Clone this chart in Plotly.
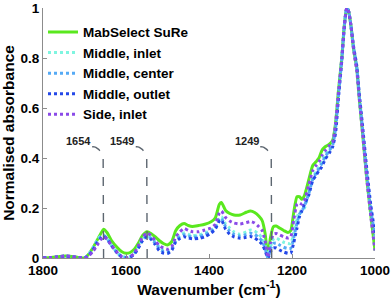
import numpy as np
import plotly.graph_objects as go

wavenumber = [1800, 1780, 1760, 1745, 1730, 1715, 1700, 1690, 1680, 1670, 1660, 1654, 1645, 1635, 1620,
              1610, 1600, 1590, 1580, 1570, 1560, 1549, 1540, 1530, 1520, 1510, 1500, 1490, 1480, 1470,
              1460, 1450, 1440, 1425, 1410, 1395, 1385, 1375, 1370, 1360, 1350, 1340, 1325, 1310, 1300,
              1290, 1280, 1272, 1265, 1258, 1252, 1245, 1238, 1230, 1220, 1210, 1203, 1196, 1188, 1182,
              1176, 1170, 1160, 1150, 1142, 1135, 1128, 1120, 1110, 1102, 1095, 1088, 1080, 1074, 1068,
              1064, 1058, 1052, 1048, 1044, 1038, 1030, 1020, 1010, 1000]

mabselect = [0.0, 0.002, 0.006, 0.008, 0.006, 0.002, 0.0, 0.015, 0.04, 0.07, 0.1, 0.115, 0.1, 0.07, 0.04,
             0.025, 0.019, 0.022, 0.035, 0.06, 0.09, 0.105, 0.098, 0.085, 0.07, 0.058, 0.052, 0.065, 0.11, 0.13,
             0.138, 0.13, 0.126, 0.13, 0.135, 0.145, 0.16, 0.215, 0.222, 0.19, 0.178, 0.172, 0.172, 0.183, 0.188,
             0.182, 0.168, 0.15, 0.1, 0.005, 0.08, 0.125, 0.128, 0.12, 0.11, 0.102, 0.11, 0.18, 0.245, 0.245,
             0.235, 0.25, 0.31, 0.37, 0.385, 0.4, 0.43, 0.445, 0.455, 0.47, 0.54, 0.67, 0.8, 0.93, 1.0,
             0.99, 0.93, 0.84, 0.8, 0.76, 0.64, 0.5, 0.32, 0.17, 0.03]

middle_inlet = [0.0, 0.002, 0.005, 0.007, 0.005, 0.002, 0.0, 0.015, 0.04, 0.07, 0.09, 0.092, 0.078, 0.05, 0.02,
                0.006, 0.003, 0.006, 0.02, 0.045, 0.075, 0.09, 0.082, 0.065, 0.045, 0.032, 0.028, 0.04, 0.072, 0.09,
                0.1, 0.095, 0.09, 0.092, 0.1, 0.112, 0.125, 0.16, 0.165, 0.135, 0.12, 0.105, 0.095, 0.105, 0.112,
                0.108, 0.095, 0.08, 0.05, 0.002, 0.045, 0.075, 0.08, 0.072, 0.063, 0.058, 0.058, 0.1, 0.16, 0.185,
                0.185, 0.2, 0.26, 0.32, 0.345, 0.365, 0.39, 0.415, 0.44, 0.46, 0.53, 0.655, 0.8, 0.93, 1.0,
                0.99, 0.93, 0.845, 0.805, 0.765, 0.65, 0.51, 0.33, 0.18, 0.07]

middle_center = [0.0, 0.002, 0.005, 0.007, 0.005, 0.002, 0.0, 0.012, 0.035, 0.065, 0.085, 0.09, 0.077, 0.05, 0.019,
                 0.005, 0.002, 0.005, 0.018, 0.043, 0.072, 0.088, 0.078, 0.06, 0.038, 0.026, 0.023, 0.035, 0.068, 0.085,
                 0.093, 0.088, 0.084, 0.085, 0.093, 0.106, 0.12, 0.155, 0.158, 0.125, 0.108, 0.095, 0.087, 0.094, 0.099,
                 0.094, 0.082, 0.068, 0.04, 0.001, 0.035, 0.058, 0.06, 0.052, 0.043, 0.038, 0.039, 0.08, 0.14, 0.175,
                 0.188, 0.208, 0.255, 0.315, 0.338, 0.358, 0.378, 0.405, 0.43, 0.452, 0.52, 0.65, 0.795, 0.925, 1.0,
                 0.99, 0.93, 0.845, 0.805, 0.765, 0.65, 0.515, 0.34, 0.19, 0.09]

middle_outlet = [0.0, 0.002, 0.005, 0.007, 0.005, 0.002, 0.0, 0.01, 0.03, 0.06, 0.08, 0.087, 0.075, 0.05, 0.018,
                 0.004, 0.0, 0.003, 0.015, 0.04, 0.07, 0.085, 0.075, 0.055, 0.03, 0.02, 0.018, 0.03, 0.065, 0.078,
                 0.085, 0.08, 0.077, 0.078, 0.085, 0.1, 0.115, 0.148, 0.152, 0.115, 0.095, 0.085, 0.079, 0.083, 0.086,
                 0.08, 0.068, 0.055, 0.03, 0.0, 0.025, 0.04, 0.04, 0.032, 0.024, 0.019, 0.02, 0.06, 0.12, 0.165,
                 0.19, 0.215, 0.25, 0.31, 0.33, 0.35, 0.365, 0.395, 0.42, 0.445, 0.5, 0.64, 0.79, 0.92, 1.0,
                 0.99, 0.93, 0.85, 0.81, 0.77, 0.66, 0.53, 0.36, 0.21, 0.1]

side_inlet = [0.0, 0.002, 0.006, 0.008, 0.006, 0.002, 0.0, 0.008, 0.025, 0.05, 0.075, 0.085, 0.075, 0.05, 0.02,
              0.005, 0.0, 0.005, 0.02, 0.05, 0.085, 0.1, 0.09, 0.07, 0.05, 0.04, 0.035, 0.045, 0.085, 0.105,
              0.118, 0.11, 0.105, 0.105, 0.112, 0.12, 0.135, 0.18, 0.188, 0.162, 0.148, 0.14, 0.136, 0.142, 0.146,
              0.14, 0.125, 0.11, 0.07, 0.003, 0.06, 0.095, 0.098, 0.092, 0.085, 0.08, 0.085, 0.15, 0.215, 0.22,
              0.215, 0.23, 0.29, 0.35, 0.37, 0.385, 0.41, 0.43, 0.45, 0.465, 0.54, 0.665, 0.8, 0.93, 1.0,
              0.99, 0.93, 0.84, 0.79, 0.75, 0.64, 0.5, 0.32, 0.165, 0.03]

series_names = ["MabSelect SuRe", "Middle, inlet", "Middle, center", "Middle, outlet", "Side, inlet"]
series_values = [mabselect, middle_inlet, middle_center, middle_outlet, side_inlet]
series_colors = ["#5ae81e", "#7ff5e0", "#55aaf5", "#2448e8", "#8a4ae8"]
series_dash = ["solid", "dot", "dot", "dot", "dot"]

peak_labels = [1654, 1549, 1249]

x_ticks = [1800, 1600, 1400, 1200, 1000]
y_ticks = [0, 0.2, 0.4, 0.6, 0.8, 1]
y_ticktext = ["0", "0.2", "0.4", "0.6", "0.8", "1"]

FONT = "Liberation Sans, Arial, sans-serif"

fig = go.Figure()

for name, vals, col, dash in zip(series_names, series_values, series_colors, series_dash):
    fig.add_trace(go.Scatter(x=wavenumber, y=vals, mode="lines", name=name,
                             line=dict(color=col, width=3, dash=dash, shape="spline", smoothing=0.6)))

# peak annotation leader lines (dashed)
for i, p in enumerate(peak_labels):
    t = np.linspace(0, np.pi / 2, 12)
    cx, cy = p + 26, 0.38
    arc_x = cx - 26 * np.cos(t)
    arc_y = cy + 0.065 * np.sin(t)
    xs = [p, p] + list(arc_x) + [p + 48]
    ys = [0, 0.38] + list(arc_y) + [0.445]
    fig.add_trace(go.Scatter(x=xs, y=ys, mode="lines", showlegend=False, hoverinfo="skip",
                             line=dict(color="#5d6670", width=1.4, dash="dash")))
    fig.add_annotation(x=p + 60, y=0.47, text=str(p), showarrow=False,
                       font=dict(family=FONT, size=11, color="#222222", weight="bold"),
                       xanchor="center", yanchor="middle")

fig.update_layout(
    width=392, height=304,
    margin=dict(l=43, r=17, t=8, b=46, autoexpand=False),
    paper_bgcolor="white", plot_bgcolor="white",
    font=dict(family=FONT, color="#000000"),
    legend=dict(x=0.0, y=0.965, xanchor="left", yanchor="top", bgcolor="rgba(0,0,0,0)",
                font=dict(family=FONT, size=13.5, color="#000000", weight="bold"),
                tracegroupgap=0, itemwidth=30),
    xaxis=dict(range=[1800, 1000], tickvals=x_ticks, ticktext=[str(v) for v in x_ticks],
               automargin=False,
               showgrid=False, zeroline=False, showline=True, linecolor="#8c8c8c", linewidth=1,
               ticks="inside", ticklen=4, tickcolor="#8c8c8c",
               tickfont=dict(family=FONT, size=13.5, color="#000000", weight="bold"),
               title=dict(text="Wavenumber (cm<sup>-1</sup>)", standoff=0,
                          font=dict(family=FONT, size=15.5, color="#000000", weight="bold"))),
    yaxis=dict(range=[0, 1], tickvals=y_ticks, ticktext=y_ticktext,
               automargin=False,
               showgrid=False, zeroline=False, showline=True, linecolor="#8c8c8c", linewidth=1,
               ticks="inside", ticklen=4, tickcolor="#8c8c8c",
               tickfont=dict(family=FONT, size=13.5, color="#000000", weight="bold"),
               title=dict(text="Normalised absorbance", standoff=4,
                          font=dict(family=FONT, size=15.5, color="#000000", weight="bold"))),
)

fig.write_html("out.html", config={"displayModeBar": False},
               post_script="document.body.style.margin='0';")
